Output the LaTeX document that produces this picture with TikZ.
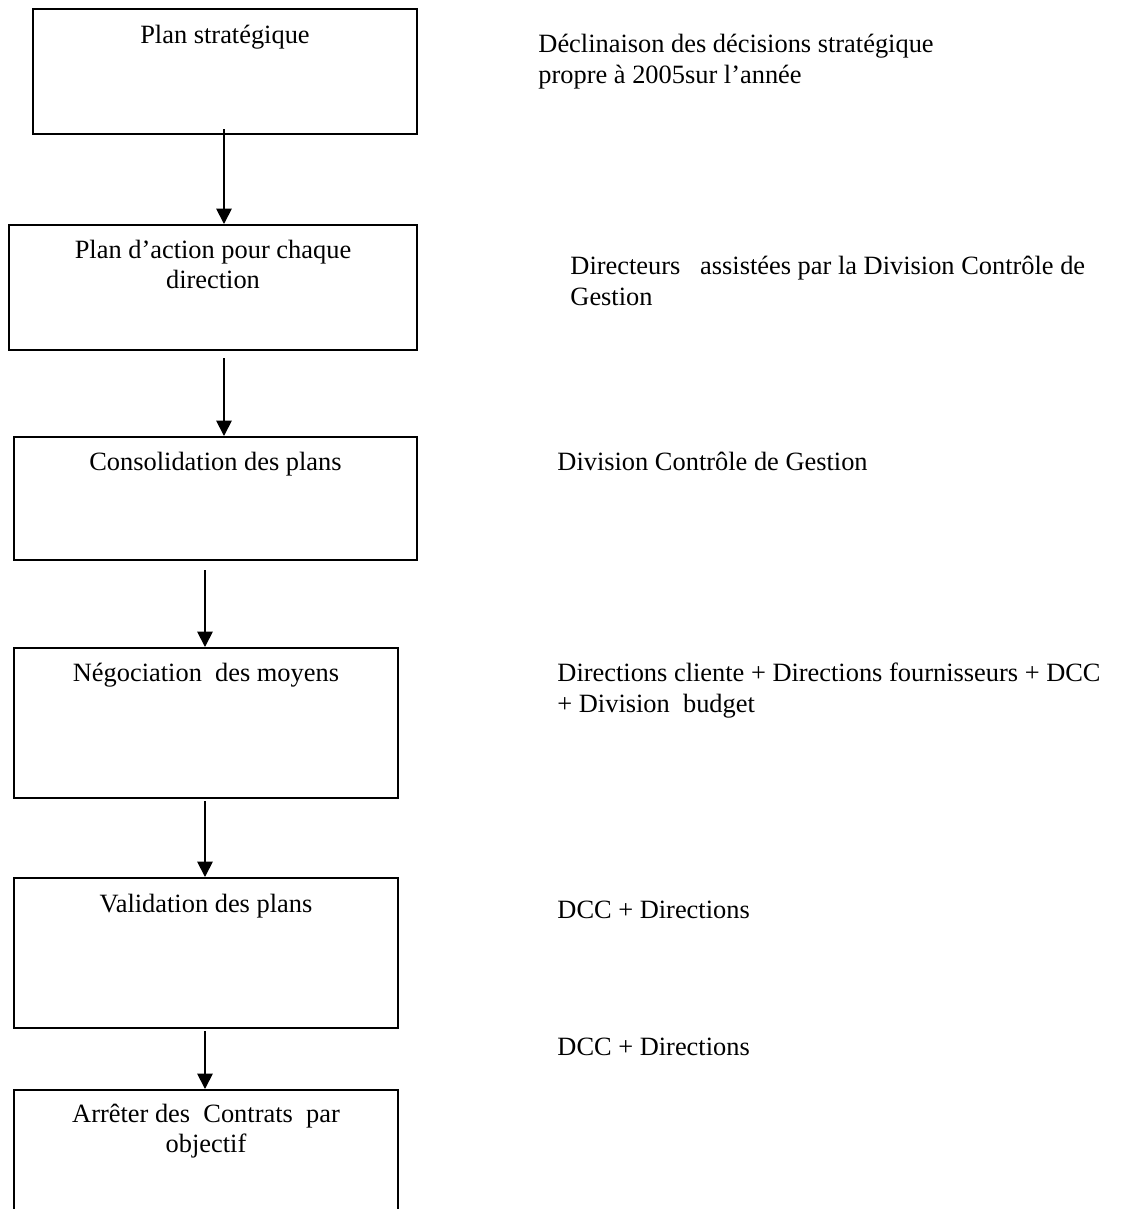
\documentclass[tikz,border=0pt]{standalone}
\usepackage{fontspec}
\setmainfont{Liberation Serif}
\usetikzlibrary{arrows.meta}

\tikzset{
  stepbox/.style args={#1 by #2}{draw, line width=0.9pt, inner sep=0pt, anchor=north west,
    minimum width=#1*0.4545pt, minimum height=#2*0.4545pt},
  steptitle/.style={anchor=base, align=center, inner sep=0pt, font=\fontsize{12}{13.8}\selectfont},
  who/.style={anchor=base west, align=left, inner sep=0pt, font=\fontsize{12}{13.8}\selectfont},
  flow/.style={-{Triangle[width=7pt,length=7pt]}, line width=0.8pt}
}

\begin{document}
\begin{tikzpicture}[x=0.4545pt, y=-0.4545pt]
  \useasboundingbox (0,0) rectangle (1124,1209);
  \clip (0,0) rectangle (1124,1209);

  % boxes of the planning steps
  \node[stepbox=384 by 125] (b1) at (32,8) {};
  \node[stepbox=408 by 125] (b2) at (8,224) {};
  \node[stepbox=403 by 123] (b3) at (13,436) {};
  \node[stepbox=384 by 150] (b4) at (13,647) {};
  \node[stepbox=384 by 150] (b5) at (13,877) {};
  \node[stepbox=384 by 160] (b6) at (13,1089) {};

  % titles (base = last line)
  \node[steptitle] (t1) at ([yshift=-16pt]b1.north) {Plan stratégique};
  \node[steptitle] (t2) at ([yshift=-29.3pt]b2.north) {Plan d’action pour chaque\\ direction};
  \node[steptitle] (t3) at ([yshift=-15.5pt]b3.north) {Consolidation des plans};
  \node[steptitle] (t4) at ([yshift=-15.9pt]b4.north) {Négociation~ des moyens};
  \node[steptitle] (t5) at ([yshift=-16.3pt]b5.north) {Validation des plans};
  \node[steptitle] (t6) at ([yshift=-29pt]b6.north) {Arrêter des~ Contrats~ par\\ objectif};

  % who is in charge
  \node[who] (w1) at (538,83) {Déclinaison des décisions stratégique\\ propre à 2005sur l’année};
  \node[who] (w2) at (570,305) {Directeurs~~ assistées par la Division Contrôle de\\ Gestion};
  \node[who] (w3) at (557,470) {Division Contrôle de Gestion};
  \node[who] (w4) at (557,712) {Directions cliente + Directions fournisseurs + DCC\\ + Division~ budget};
  \node[who] (w5) at (557,918) {DCC + Directions};
  \node[who] (w6) at (557,1055) {DCC + Directions};

  % arrows
  \coordinate (s1) at (224,129);
  \coordinate (s2) at (224,358);
  \coordinate (s3) at (205,570);
  \coordinate (s4) at (205,801);
  \coordinate (s5) at (205,1031);
  \draw[flow] (s1) -- (s1 |- b2.north);
  \draw[flow] (s2) -- (s2 |- b3.north);
  \draw[flow] (s3) -- (s3 |- b4.north);
  \draw[flow] (s4) -- (s4 |- b5.north);
  \draw[flow] (s5) -- (s5 |- b6.north);
\end{tikzpicture}
\end{document}
